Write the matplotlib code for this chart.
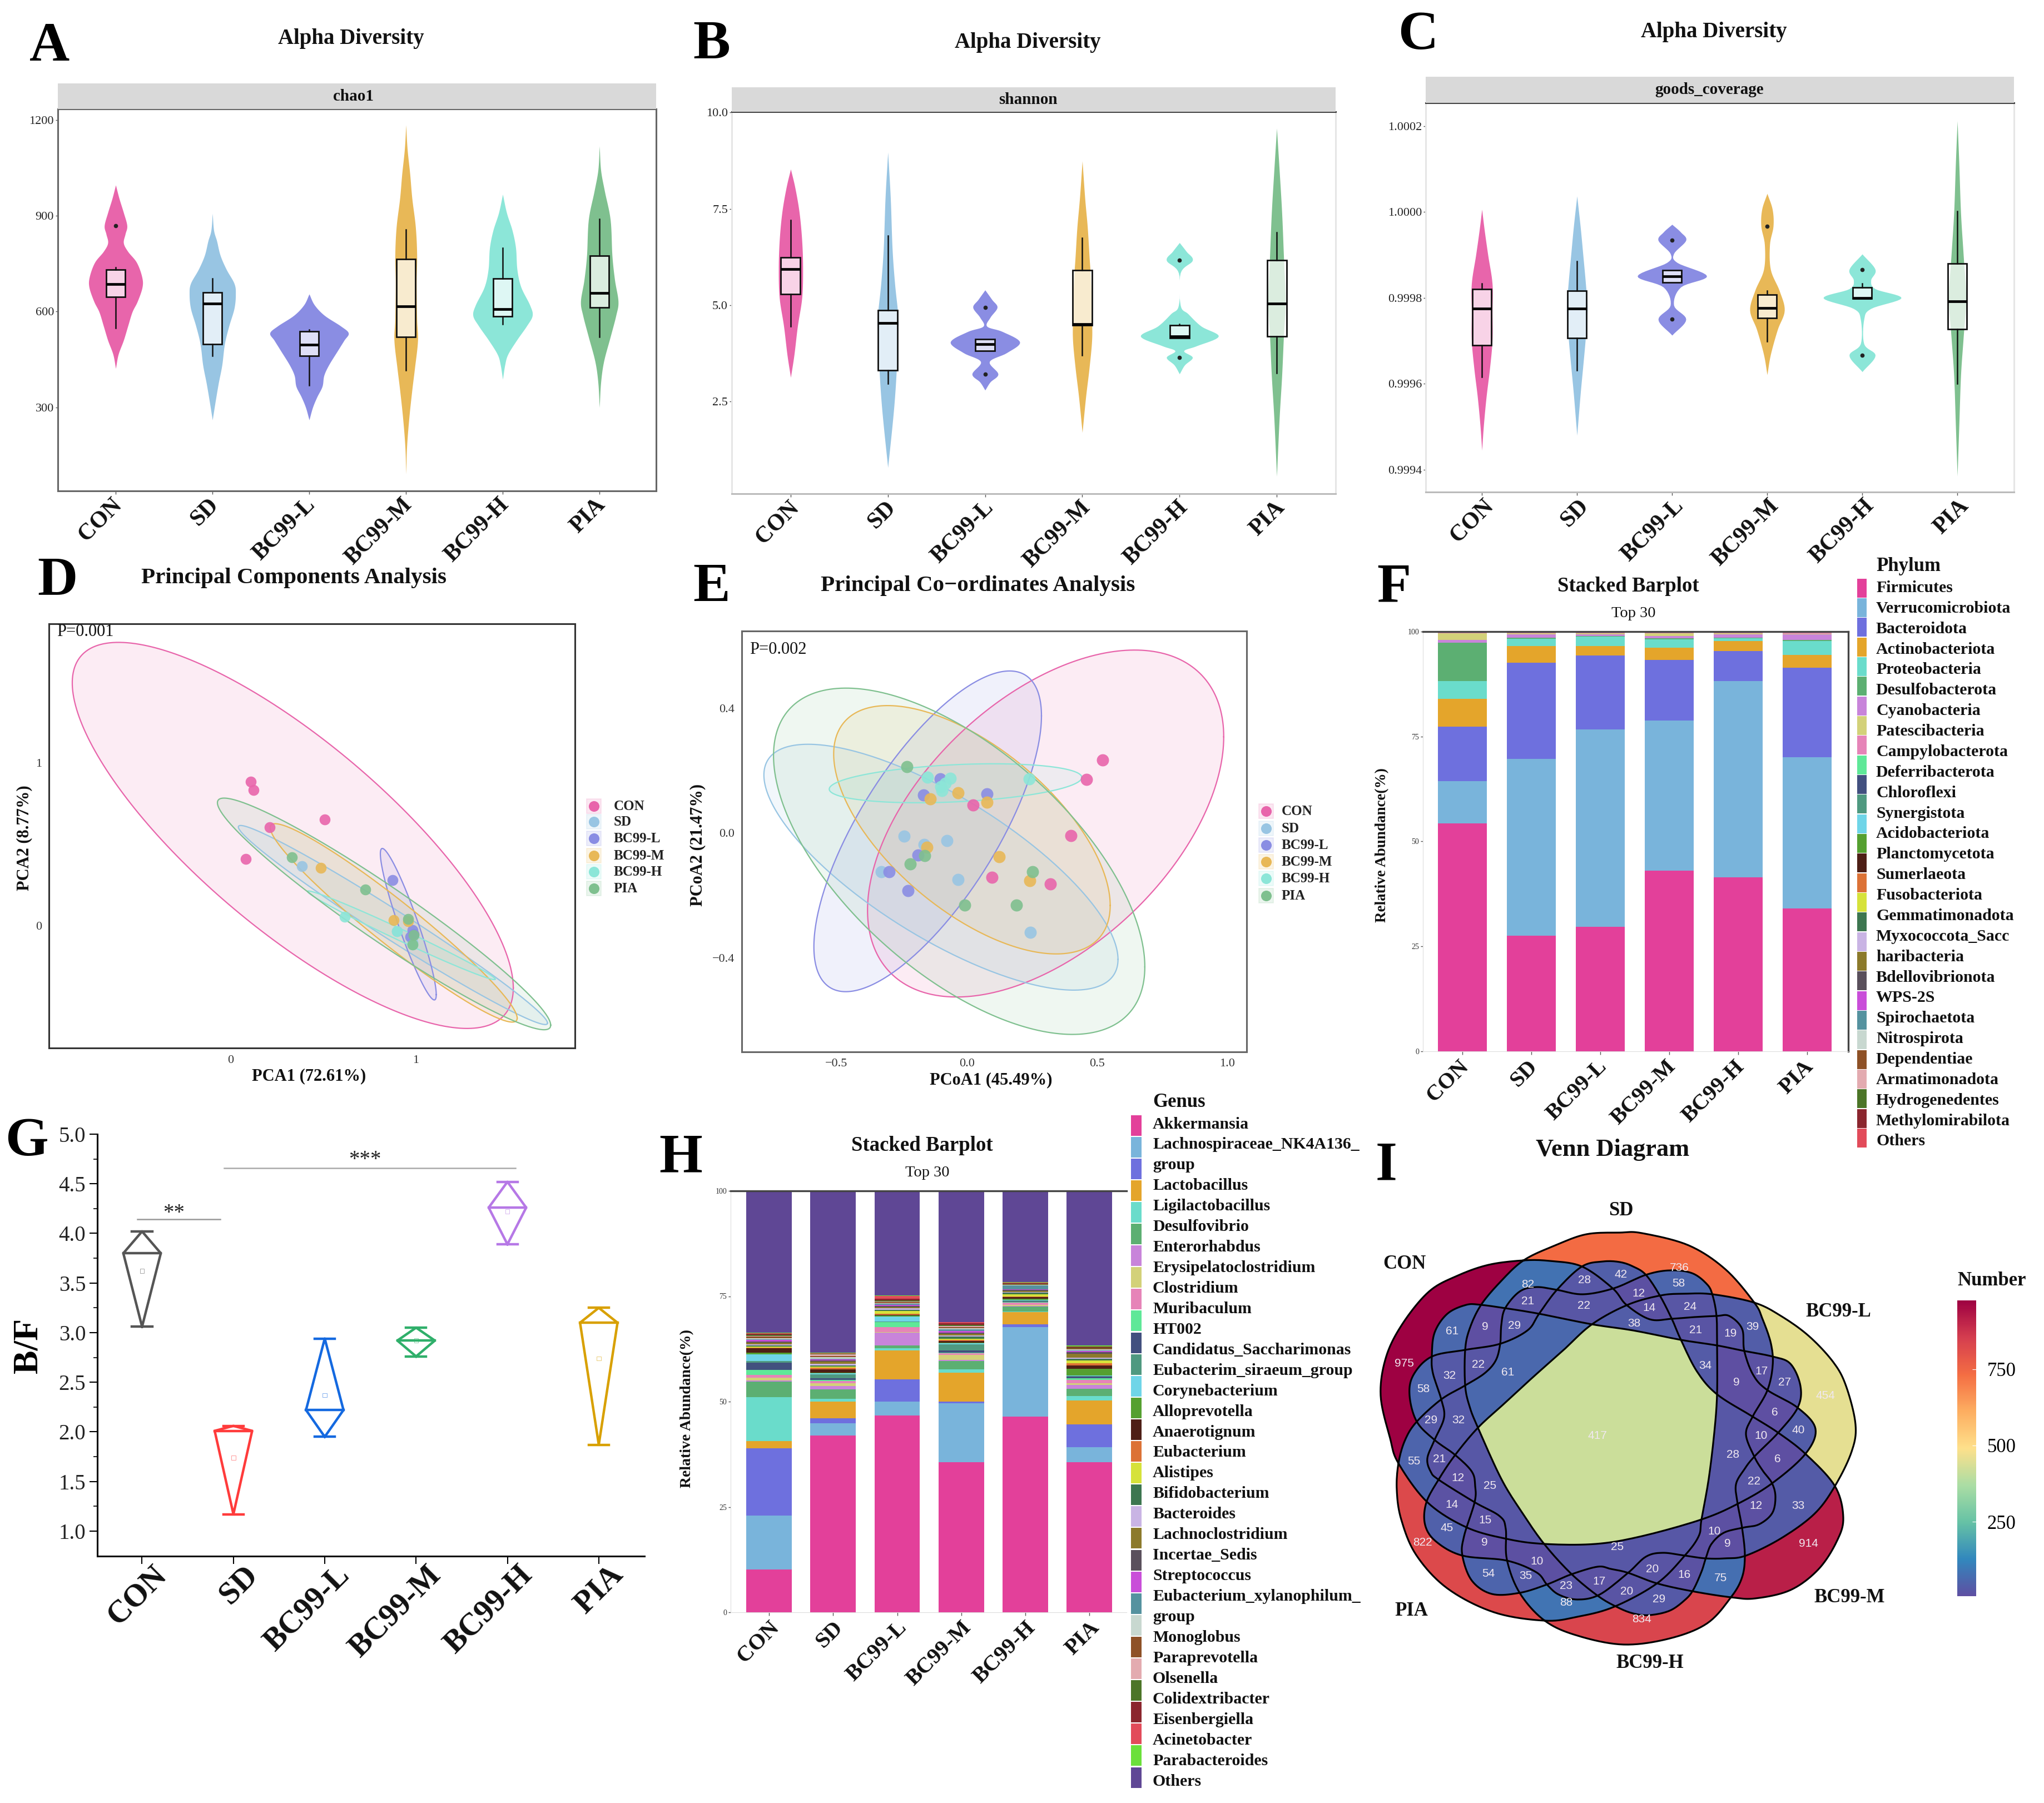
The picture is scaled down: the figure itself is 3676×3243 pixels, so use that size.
#!/usr/bin/env python3
"""Microbiome summary figure, panels A-I (alpha diversity, ordination, stacked bars, B/F, Venn)."""
import matplotlib
matplotlib.use('Agg')
import matplotlib.pyplot as plt
from matplotlib.cm import ScalarMappable
from matplotlib.colors import LinearSegmentedColormap, Normalize
from matplotlib.patches import Rectangle
from matplotlib.path import Path
from matplotlib.transforms import ScaledTranslation
import numpy as np

W, H, DPI = 3676, 3243, 100
plt.rcParams['font.family'] = ['Liberation Serif', 'DejaVu Serif']
plt.rcParams['axes.unicode_minus'] = True

groups = ['CON', 'SD', 'BC99-L', 'BC99-M', 'BC99-H', 'PIA']
group_colors = ['#E865AB', '#98C5E3', '#8A8DE3', '#E8B857', '#8CE6D8', '#7FC08F']

# violin outlines: levels and half widths (category units)
chao1_levels = [
    [422, 466, 510, 555, 599, 632, 677, 710, 754, 788, 815, 843, 869, 910, 954, 996],
    [261, 322, 377, 433, 499, 555, 610, 655, 688, 732, 776, 821, 854, 907],
    [261, 300, 333, 366, 400, 433, 477, 510, 533, 555, 588, 621, 655],
    [92, 178, 267, 355, 422, 510, 577, 688, 776, 865, 954, 1031, 1109, 1184],
    [388, 433, 466, 510, 555, 588, 621, 677, 732, 799, 854, 909, 967],
    [300, 377, 444, 521, 588, 632, 699, 776, 887, 976, 1043, 1118],
]
chao1_widths = [
    [0, .027, .081, .126, .171, .225, .275, .27, .216, .126, .081, .099, .117, .081, .036, 0],
    [0, .032, .063, .099, .126, .171, .225, .239, .225, .144, .081, .045, .014, 0],
    [0, .036, .081, .135, .153, .203, .293, .361, .406, .325, .158, .054, 0],
    [0, .009, .032, .063, .09, .122, .113, .108, .113, .099, .063, .041, .014, 0],
    [0, .023, .054, .144, .248, .307, .28, .189, .149, .135, .099, .041, 0],
    [0, .014, .045, .113, .171, .194, .158, .131, .113, .054, .014, 0],
]
# whisker low, q1, median, q3, whisker high
chao1_boxes = [[549, 646, 686, 732, 738], [461, 499, 625, 660, 704], [370, 461, 496, 538, 544],
               [416, 521, 616, 765, 856], [560, 585, 608, 704, 799], [521, 613, 659, 774, 890]]
chao1_outliers = [[869], [], [], [], [], []]

shannon_levels = [
    [3.12, 3.71, 4.45, 5.19, 5.93, 6.66, 7.40, 8.05, 8.53],
    [.78, 1.87, 2.61, 3.35, 4.08, 4.64, 5.56, 6.48, 7.77, 8.97],
    [2.79, 3.0, 3.21, 3.53, 3.76, 4.04, 4.31, 4.45, 4.68, 4.94, 5.14, 5.39],
    [1.69, 2.61, 3.35, 4.08, 4.64, 5.56, 6.29, 7.03, 7.77, 8.74],
    [3.21, 3.44, 3.64, 3.81, 3.94, 4.19, 4.45, 4.77, 5.0, 5.83, 6.16, 6.39, 6.62],
    [.55, 2.05, 3.16, 4.18, 5.1, 6.29, 7.4, 8.51, 9.59],
]
shannon_widths = [
    [0, .036, .071, .116, .125, .116, .089, .045, 0],
    [0, .045, .071, .089, .098, .107, .071, .045, .027, 0],
    [0, .053, .134, .045, .223, .357, .178, .018, .053, .125, .071, 0],
    [0, .036, .071, .098, .098, .089, .071, .053, .027, 0],
    [0, .053, .134, .045, .178, .401, .223, .089, .009, .009, .134, .071, 0],
    [0, .027, .053, .071, .089, .071, .053, .027, 0],
]
shannon_boxes = [[4.45, 5.29, 5.93, 6.24, 7.2], [2.96, 3.31, 4.53, 4.87, 6.8], [3.81, 3.81, 3.99, 4.11, 4.11],
                 [3.69, 4.47, 4.5, 5.9, 6.74], [4.15, 4.15, 4.19, 4.47, 4.5], [3.24, 4.19, 5.04, 6.17, 6.89]]
shannon_outliers = [[], [], [4.94, 3.21], [], [6.16, 3.64], []]

goods_levels = [
    [.999445, .999503, .999569, .999635, .999701, .999767, .999833, .999899, .999957, 1.000006],
    [.99948, .999577, .999643, .99971, .999775, .999833, .999899, .999965, 1.000037],
    [.999713, .99975, .999783, .999825, .999851, .999882, .999903, .999934, .999953, .999971],
    [.999621, .999668, .999726, .999771, .999817, .999866, .999924, .999967, 1.000006, 1.000043],
    [.999628, .999666, .999693, .99975, .999775, .9998, .999821, .999841, .999866, .999902],
    [.999385, .999503, .999619, .999709, .9998, .999899, .999998, 1.000113, 1.000212],
]
goods_widths = [
    [0, .018, .046, .082, .109, .109, .109, .064, .027, 0],
    [0, .036, .064, .091, .109, .091, .064, .036, 0],
    [0, .146, .018, .091, .365, .055, .018, .146, .091, 0],
    [0, .036, .109, .182, .128, .036, .027, .064, .055, 0],
    [0, .137, .018, .018, .091, .41, .137, .091, .137, 0],
    [0, .018, .036, .064, .091, .064, .036, .018, 0],
]
goods_boxes = [[.999616, .99969, .999775, .999821, .999833], [.999631, .999707, .999775, .999817, .999885],
               [.999836, .999836, .99985, .999864, .999864], [.999699, .999753, .999776, .999808, .999817],
               [.999798, .999798, .9998, .999824, .999833], [.9996, .999727, .999792, .99988, 1.000001]]
goods_outliers = [[], [], [.999934, .99975], [.999967], [.999866, .999666], []]

# ordination scores per group
pca_x = [[.108, .124, .507, .211, .081], [.383, .897, .981], [.873, .981, .969, .988],
         [.486, .88, .957], [.617, .981, .897], [.33, .727, .957, .988, .981]]
pca_y = [[.883, .833, .652, .604, .411], [.365, -.033, -.102], [.28, -.026, -.07, -.05],
         [.354, .035, .028], [.054, -.117, -.033], [.42, .222, .041, -.059, -.117]]
# ellipses: centre x, centre y, half extent x, half extent y, correlation
pca_ellipses = [[.335, .554, 1.191, 1.185, -.79], [.876, .004, .835, .611, -.985], [.959, .009, .151, .465, -.93],
                [.88, .017, .667, .609, -.96], [.921, -.059, .507, .272, -.99], [.828, .072, .9, .711, -.96]]

pcoa_x = [[.522, .461, .4, .024, .097, .321], [-.24, -.075, -.163, -.328, -.034, .245],
          [-.102, -.165, .077, -.187, -.298, -.226], [-.141, -.034, .078, -.153, .124, .243],
          [-.151, -.063, -.099, -.082, .241, -.095], [-.23, -.162, -.216, -.007, .19, .252]]
pcoa_y = [[.234, .172, -.009, .089, -.143, -.163], [-.011, -.024, -.037, -.124, -.149, -.318],
          [.173, .122, .124, -.072, -.124, -.185], [.109, .128, .098, -.047, -.076, -.153],
          [.178, .174, .148, .159, .173, .136], [.212, -.073, -.1, -.231, -.232, -.124]]
pcoa_ellipses = [[.303, .03, .684, .556, .5], [-.099, -.11, .68, .394, -.75], [-.15, .005, .437, .514, .72],
                 [.02, .01, .531, .398, -.61], [-.043, .159, .485, .0625, .3], [-.029, -.091, .713, .555, -.61]]

palette = ['#E3409A', '#79B4DB', '#6E70DE', '#E4A52B', '#6ADCCB', '#5CAF72', '#C884DA', '#D3D179',
           '#E684B8', '#5FE898', '#42507F', '#4F9980', '#6FD5E8', '#55A030', '#4E1F16', '#DC7236',
           '#D6E23A', '#3D7650', '#C9B4E4', '#8C7A2B', '#5A505C', '#C94ED9', '#55929F', '#C8D8D0',
           '#8E5127', '#E3ABB0', '#4C7528', '#8B262E', '#E24B5A', '#6BE03A', '#5F4795']

phylum_labels = ['Firmicutes', 'Verrucomicrobiota', 'Bacteroidota', 'Actinobacteriota', 'Proteobacteria',
                 'Desulfobacterota', 'Cyanobacteria', 'Patescibacteria', 'Campylobacterota', 'Deferribacterota',
                 'Chloroflexi', 'Synergistota', 'Acidobacteriota', 'Planctomycetota', 'Sumerlaeota',
                 'Fusobacteriota', 'Gemmatimonadota', 'Myxococcota_Sacc', 'haribacteria', 'Bdellovibrionota',
                 'WPS-2S', 'Spirochaetota', 'Nitrospirota', 'Dependentiae', 'Armatimonadota',
                 'Hydrogenedentes', 'Methylomirabilota', 'Others']
# rows are the lowest segments of the stack, last row collects the thin remainder
phylum_values = [
    [54.3, 27.6, 29.7, 43.1, 41.4, 34.1],
    [10.1, 42.1, 47.0, 35.7, 46.8, 35.9],
    [12.9, 22.9, 17.6, 14.4, 7.2, 21.4],
    [6.7, 4.0, 2.3, 2.9, 2.3, 3.0],
    [4.2, 1.7, 2.2, 2.0, .7, 3.4],
    [9.1, .3, .2, .3, .2, .2],
    [.7, .8, .4, .6, .7, 1.3],
    [1.6, .2, .2, .6, .3, .2],
    [.4, .4, .4, .4, .3, .5],
]

genus_labels = ['Akkermansia', 'Lachnospiraceae_NK4A136_', 'group', 'Lactobacillus', 'Ligilactobacillus',
                'Desulfovibrio', 'Enterorhabdus', 'Erysipelatoclostridium', 'Clostridium', 'Muribaculum',
                'HT002', 'Candidatus_Saccharimonas', 'Eubacterim_siraeum_group', 'Corynebacterium',
                'Alloprevotella', 'Anaerotignum', 'Eubacterium', 'Alistipes', 'Bifidobacterium', 'Bacteroides',
                'Lachnoclostridium', 'Incertae_Sedis', 'Streptococcus', 'Eubacterium_xylanophilum_', 'group',
                'Monoglobus', 'Paraprevotella', 'Olsenella', 'Colidextribacter', 'Eisenbergiella',
                'Acinetobacter', 'Parabacteroides', 'Others']
# one column per group, one row per legend colour
genus_values = np.array([
    [10.1, 12.9, 15.9, 1.7, 10.4, 3.7, .3, .7, .6, 1.2, 1.8, .3, 1.6, .4, 1.0, .2, .2, .3, .3, .4, .3, .3, .2, .3, .3, .2, .2, .3, .1, .1, 34.1],
    [42, 2.9, 1.1, 4, .6, 2.3, .8, .7, .5, .3, .3, .9, .3, .1, .9, .3, .3, .3, .4, .5, .3, .2, .2, .3, .3, .4, .1, .1, .1, .1, 38.6],
    [46.7, 3.3, 5.3, 6.9, .4, .7, 3, .2, 1.2, 1.1, .1, .1, 1.2, .2, .2, .2, .7, .3, .3, .3, .3, .2, .3, .2, .2, .2, .2, .4, .7, .1, 24.9],
    [35.6, 14, .4, 6.8, .8, 2, .3, 1.2, .4, .1, .5, 1.5, .2, .2, .4, .2, .3, .5, .3, .4, .3, .3, .5, .2, .3, .2, .3, .4, .2, .1, 31.1],
    [46.5, 21.2, .6, 2.9, .2, 1.2, .1, .3, .5, .1, .1, .3, .2, .2, .4, .2, .5, .3, .2, .3, .2, .1, 1.0, .1, .1, .1, .1, .1, .1, .1, 21.8],
    [35.6, 3.6, 5.4, 5.7, 1, 1.8, .8, .5, .7, .5, .3, .2, .1, 1.6, .8, .5, .7, .3, .3, .9, .5, .2, .2, .2, .2, .1, .1, .2, .1, .2, 36.8],
]).T

bf_low = [3.06, 1.17, 1.95, 2.76, 3.89, 1.87]
bf_mid = [3.80, 2.01, 2.22, 2.92, 4.26, 3.10]
bf_high = [4.02, 2.06, 2.94, 3.05, 4.52, 3.25]
bf_mean = [3.62, 1.74, 2.37, 2.92, 4.22, 2.74]
bf_colors = ['#555555', '#FF3B3B', '#1469E0', '#2FAF6A', '#B678E6', '#D8A000']

# Venn outlines, traced in image pixels
con_curve = [(2740, 2267), (2787, 2268), (2845, 2278), (2900, 2317), (2925, 2347), (2967, 2373), (3007, 2372),
             (3047, 2369), (3087, 2367), (3110, 2367), (3133, 2390), (3137, 2430), (3153, 2473), (3178, 2500),
             (3233, 2532), (3265, 2570), (3247, 2615), (3187, 2668), (3125, 2705), (3060, 2733), (2953, 2763),
             (2870, 2777), (2777, 2777), (2710, 2768), (2637, 2747), (2567, 2702), (2515, 2632), (2500, 2587),
             (2483, 2510), (2493, 2440), (2523, 2380), (2570, 2323), (2620, 2295), (2677, 2275)]
sd_curve = [(2740, 2267), (2697, 2307), (2663, 2348), (2643, 2390), (2635, 2428), (2635, 2492), (2643, 2530),
            (2658, 2568), (2700, 2660), (2737, 2720), (2777, 2777), (2825, 2830), (2873, 2870), (2907, 2890),
            (2937, 2902), (2967, 2905), (3003, 2897), (3030, 2878), (3045, 2860), (3060, 2827), (3068, 2802),
            (3078, 2777), (3100, 2757), (3133, 2748), (3163, 2742), (3187, 2722), (3193, 2693), (3187, 2668),
            (3170, 2645), (3155, 2620), (3140, 2580), (3152, 2548), (3178, 2502), (3188, 2457), (3185, 2417),
            (3170, 2373), (3155, 2343), (3103, 2283), (3037, 2240), (2953, 2218), (2913, 2217), (2853, 2220),
            (2797, 2240)]
l_curve = [(3155, 2343), (3203, 2367), (3253, 2403), (3297, 2450), (3320, 2493), (3337, 2562), (3330, 2611),
           (3300, 2673), (3263, 2723), (3203, 2767), (3140, 2798), (3103, 2803), (3067, 2803), (3030, 2798),
           (2990, 2793), (2960, 2800), (2928, 2829), (2877, 2868), (2837, 2877), (2803, 2868), (2782, 2850),
           (2763, 2828), (2710, 2807), (2630, 2798), (2583, 2773), (2563, 2743), (2565, 2703), (2588, 2660),
           (2617, 2617), (2658, 2568), (2707, 2523), (2757, 2477), (2810, 2430), (2863, 2382), (2927, 2347),
           (2987, 2330), (3030, 2327), (3080, 2328)]
m_curve = [(3113, 2873), (3157, 2875), (3220, 2860), (3270, 2823), (3303, 2773), (3315, 2730), (3300, 2673),
           (3247, 2615), (3198, 2577), (3152, 2548), (3088, 2508), (3052, 2467), (3023, 2410), (3007, 2373),
           (2985, 2330), (2960, 2293), (2937, 2278), (2913, 2270), (2883, 2269), (2845, 2278), (2800, 2320),
           (2768, 2363), (2747, 2393), (2698, 2417), (2635, 2428), (2575, 2440), (2542, 2473), (2535, 2510),
           (2548, 2557), (2580, 2590), (2617, 2617), (2647, 2647), (2653, 2673), (2652, 2702), (2633, 2763),
           (2630, 2798), (2647, 2843), (2683, 2867), (2733, 2865), (2782, 2850), (2825, 2832), (2873, 2818),
           (2897, 2822), (2928, 2829), (2980, 2848), (3043, 2862)]
h_curve = [(2778, 2915), (2837, 2942), (2920, 2958), (3003, 2947), (3070, 2920), (3113, 2873), (3133, 2837),
           (3138, 2797), (3133, 2748), (3125, 2705), (3122, 2670), (3137, 2643), (3155, 2620), (3198, 2577),
           (3233, 2532), (3238, 2493), (3220, 2453), (3188, 2440), (3137, 2430), (3088, 2420), (3023, 2410),
           (2937, 2393), (2863, 2382), (2768, 2363), (2707, 2353), (2663, 2347), (2637, 2347), (2603, 2363),
           (2580, 2397), (2575, 2440), (2577, 2470), (2592, 2517), (2597, 2550), (2580, 2590), (2567, 2623),
           (2573, 2647), (2588, 2662), (2652, 2702), (2697, 2727), (2708, 2750), (2710, 2805), (2733, 2865)]
pia_curve = [(2515, 2632), (2512, 2680), (2520, 2733), (2547, 2797), (2603, 2857), (2687, 2900), (2778, 2915),
             (2837, 2908), (2903, 2890), (2980, 2848), (3030, 2798), (3055, 2763), (3060, 2733), (3073, 2660),
             (3083, 2577), (3088, 2508), (3088, 2420), (3087, 2367), (3080, 2330), (3070, 2310), (3043, 2290),
             (3003, 2285), (2960, 2293), (2903, 2317), (2847, 2328), (2800, 2320), (2763, 2315), (2733, 2323),
             (2707, 2353), (2700, 2383), (2698, 2417), (2690, 2447), (2670, 2470), (2635, 2492), (2592, 2517),
             (2548, 2557), (2527, 2590)]

venn_values = [975, 82, 28, 21, 22, 61, 9, 29, 22, 61, 32, 58, 29, 32, 417, 55, 21,
               42, 736, 58, 12, 14, 24, 38, 21, 19, 39, 34, 17, 27, 9, 454, 6, 40, 10, 28, 6,
               12, 25, 14, 15, 45, 822, 9, 10, 54, 35, 23, 17, 88,
               25, 22, 12, 33, 10, 9, 914, 20, 16, 75, 20, 29, 834]
venn_x = [2525, 2748, 2850, 2748, 2849, 2612, 2671, 2724, 2658, 2712, 2607, 2560, 2574, 2623, 2873, 2543, 2589,
          2915, 3020, 3019, 2947, 2966, 3040, 2939, 3050, 3112, 3152, 3067, 3168, 3210, 3123, 3283, 3192, 3234, 3167, 3117, 3197,
          2622, 2680, 2611, 2671, 2602, 2558, 2670, 2764, 2677, 2744, 2817, 2876, 2817,
          2909, 3155, 3158, 3234, 3083, 3107, 3252, 2972, 3029, 3095, 2926, 2984, 2953]
venn_y = [2452, 2310, 2303, 2341, 2349, 2394, 2387, 2385, 2455, 2468, 2474, 2499, 2554, 2554, 2582, 2629, 2625,
          2293, 2281, 2309, 2326, 2353, 2350, 2380, 2393, 2398, 2386, 2456, 2466, 2486, 2486, 2511, 2540, 2573, 2583, 2617, 2624,
          2658, 2673, 2706, 2734, 2748, 2775, 2774, 2809, 2831, 2834, 2853, 2845, 2882,
          2783, 2665, 2708, 2709, 2754, 2777, 2776, 2823, 2833, 2838, 2862, 2876, 2912]
venn_names = ['CON', 'SD', 'BC99-L', 'BC99-M', 'BC99-H', 'PIA']
venn_colors = ['#5E4FA2', '#3288BD', '#66C2A5', '#ABDDA4', '#FEE08B', '#FDAE61', '#F46D43', '#D53E4F', '#9E0142']

fig = plt.figure(figsize=(W / DPI, H / DPI), dpi=DPI, facecolor='white')


def panel_axes(left, top, right, bottom):
    return fig.add_axes([left / W, 1 - bottom / H, (right - left) / W, (bottom - top) / H])


def spline(pts, closed=True, n=10):
    """Catmull-Rom curve through the traced points, only to draw them smoothly."""
    p = np.asarray(pts, float)
    if closed:
        p = np.vstack([p[-1], p, p[:2]])
    else:
        p = np.vstack([2 * p[0] - p[1], p, 2 * p[-1] - p[-2]])
    t = np.linspace(0, 1, n, endpoint=False)[:, None]
    out = []
    for i in range(1, len(p) - 2):
        a, b, c, d = p[i - 1], p[i], p[i + 1], p[i + 2]
        out.append(.5 * (2 * b + (c - a) * t + (2 * a - 5 * b + 4 * c - d) * t ** 2 + (3 * b - a - 3 * c + d) * t ** 3))
    out = np.vstack(out)
    if not closed:
        out = np.vstack([out, p[-2]])
    return out


def rotated_labels(ax, names, size, dx, pad):
    ax.set_xticks(range(len(names)))
    ax.set_xticklabels(names, rotation=45, ha='right', va='center', rotation_mode='anchor',
                       fontsize=size, fontweight='bold', color='#111111')
    ax.tick_params(axis='x', pad=pad)
    shift = ScaledTranslation(dx / DPI, 0, fig.dpi_scale_trans)
    for lab in ax.get_xticklabels():
        lab.set_transform(lab.get_transform() + shift)


def violin_panel(box, xlim, ylim, levels, widths, stats, outliers, yticks, yfmt, edge, dx):
    ax = panel_axes(*box)
    for i in range(6):
        curve = spline(np.column_stack([levels[i], widths[i]]), closed=False, n=8)
        hw = np.clip(curve[:, 1], 0, None)
        ax.fill_betweenx(curve[:, 0], i - hw, i + hw, color=group_colors[i], lw=0, zorder=1)
    bxp_stats = [dict(whislo=s[0], q1=s[1], med=s[2], q3=s[3], whishi=s[4], fliers=outliers[i])
                 for i, s in enumerate(stats)]
    ax.bxp(bxp_stats, positions=range(6), widths=.2, patch_artist=True, showcaps=False, manage_ticks=False,
           boxprops=dict(facecolor=(1, 1, 1, .72), edgecolor='#111111', linewidth=2),
           whiskerprops=dict(color='#111111', linewidth=1.8),
           medianprops=dict(color='#000000', linewidth=3.4),
           flierprops=dict(marker='o', markerfacecolor='#222222', markeredgecolor='#222222', markersize=4.5),
           zorder=3)
    ax.set_xlim(*xlim)
    ax.set_ylim(*ylim)
    ax.set_yticks(yticks)
    ax.set_yticklabels([yfmt % v for v in yticks], fontsize=16, color='#222222')
    ax.tick_params(axis='y', length=3, width=1, color='#555555', pad=2)
    ax.tick_params(axis='x', length=4, width=1, color='#555555')
    rotated_labels(ax, groups, 30, dx, 10)
    for s in ax.spines.values():
        s.set_color(edge)
        s.set_linewidth(2.2)
    return ax


def ellipse_curve(e):
    cx, cy, dx, dy, r = e
    t = np.linspace(0, 2 * np.pi, 240)
    return cx + dx * np.cos(t), cy + dy * np.cos(t + np.arccos(r))


def ordination_panel(box, xlim, ylim, xs, ys, ellipses, xticks, xticklabels, yticks, yticklabels, spine, size):
    ax = panel_axes(*box)
    for i in range(6):
        ex, ey = ellipse_curve(ellipses[i])
        ax.fill(ex, ey, color=group_colors[i], alpha=.12, lw=0, zorder=1)
        ax.plot(ex, ey, color=group_colors[i], lw=1.6, zorder=2)
    for i in range(6):
        ax.scatter(xs[i], ys[i], s=size, color=group_colors[i], alpha=.9, lw=0, zorder=3)
    ax.set_xlim(*xlim)
    ax.set_ylim(*ylim)
    ax.set_xticks(xticks)
    ax.set_xticklabels(xticklabels, fontsize=16, color='#333333')
    ax.set_yticks(yticks)
    ax.set_yticklabels(yticklabels, fontsize=16, color='#333333')
    ax.tick_params(length=0, pad=9)
    for s in ax.spines.values():
        s.set_color(spine)
        s.set_linewidth(2.2)
    return ax


def stacked_panel(box, xlim, values, colors, dx):
    ax = panel_axes(*box)
    bottom = np.zeros(6)
    for row, color in zip(values, colors):
        ax.bar(range(6), row, bottom=bottom, width=.71, color=color, lw=0)
        bottom = bottom + np.asarray(row)
    ax.set_xlim(*xlim)
    ax.set_ylim(0, 100)
    ax.set_yticks([0, 25, 50, 75, 100])
    ax.set_yticklabels(['0', '25', '50', '75', '100'], fontsize=10, color='#333333')
    ax.tick_params(axis='y', length=3, width=1, color='#555555', pad=2)
    ax.tick_params(axis='x', length=4, width=1, color='#555555')
    rotated_labels(ax, groups, 29, dx, 12)
    ax.spines['left'].set_color('#DDDDDD')
    ax.spines['bottom'].set_color('#DDDDDD')
    ax.spines['top'].set_color('#444444')
    ax.spines['top'].set_linewidth(2.4)
    return ax


# A-C alpha diversity
violin_panel((104, 196, 1180, 883), (-.598, 5.586), (39, 1234), chao1_levels, chao1_widths, chao1_boxes,
             chao1_outliers, [300, 600, 900, 1200], '%d', '#666666', 5)
ax_b = violin_panel((1316, 201, 2402, 888), (-.606, 5.606), (.1, 10.02), shannon_levels, shannon_widths,
                    shannon_boxes, shannon_outliers, [2.5, 5.0, 7.5, 10.0], '%.1f', '#BBBBBB', 9)
ax_c = violin_panel((2564, 185, 3622, 885), (-.591, 5.596), (.999348, 1.000254), goods_levels, goods_widths,
                    goods_boxes, goods_outliers, [.9994, .9996, .9998, 1.0, 1.0002], '%.4f', '#BBBBBB', 15)
for a in (ax_b, ax_c):
    a.spines['top'].set_color('#444444')
    a.spines['left'].set_color('#E6E6E6')
    a.spines['right'].set_color('#E6E6E6')

# D, E ordination
ordination_panel((88, 1122, 1034, 1885), (-.982, 1.859), (-.751, 1.853), pca_x, pca_y, pca_ellipses,
                 [0, 1], ['0', '1'], [0, 1], ['0', '1'], '#333333', 200)
ordination_panel((1334, 1135, 2242, 1892), (-.864, 1.075), (-.702, .647), pcoa_x, pcoa_y, pcoa_ellipses,
                 [-.5, 0, .5, 1], ['\u22120.5', '0.0', '0.5', '1.0'], [-.4, 0, .4],
                 ['\u22120.4', '0.0', '0.4'], '#666666', 250)

# F, H stacked bars
ax_f = stacked_panel((2559, 1136, 3324, 1891), (-.57, 5.6), phylum_values, palette[:9], 6)
ax_f.spines['right'].set_color('#444444')
ax_f.spines['right'].set_linewidth(2.4)
ax_h = stacked_panel((1314, 2142, 2026, 2900), (-.6, 5.58), genus_values, palette, 12)
ax_h.spines['right'].set_visible(False)

# G B/F ratio
ax_g = panel_axes(175, 2040, 1159, 2798.5)
for i in range(6):
    c = bf_colors[i]
    ax_g.plot([i, i - .205, i, i + .205, i], [bf_low[i], bf_mid[i], bf_high[i], bf_mid[i], bf_low[i]], color=c, lw=3.2)
    ax_g.plot([i - .205, i + .205], [bf_mid[i], bf_mid[i]], color=c, lw=3.2)
    ax_g.plot([i - .11, i + .11], [bf_low[i], bf_low[i]], color=c, lw=3.2)
    ax_g.plot([i - .11, i + .11], [bf_high[i], bf_high[i]], color=c, lw=3.2)
    ax_g.scatter([i], [bf_mean[i]], marker='s', s=30, facecolor='none', edgecolor=c, lw=.6, alpha=.6)
ax_g.plot([-.05, .857], [4.14, 4.14], color='#999999', lw=1.8)
ax_g.plot([.9, 4.085], [4.657, 4.657], color='#AAAAAA', lw=1.8)
ax_g.text(.35, 4.2, '**', ha='center', va='center', fontsize=28, color='#222222')
ax_g.text(2.44, 4.74, '***', ha='center', va='center', fontsize=28, color='#222222')
ax_g.set_xlim(-.49, 5.5)
ax_g.set_ylim(.75, 5.0)
ax_g.set_yticks(np.arange(1, 5.01, .5))
ax_g.set_yticklabels(['%.1f' % v for v in np.arange(1, 5.01, .5)], fontsize=28, color='#222222')
ax_g.set_yticks(np.arange(1.25, 5, .5), minor=True)
ax_g.tick_params(axis='y', which='major', length=10, width=1.5, pad=5)
ax_g.tick_params(axis='y', which='minor', length=5, width=1.2)
ax_g.tick_params(axis='x', length=10, width=1.5)
rotated_labels(ax_g, groups, 41, 36, 9)
ax_g.spines['top'].set_visible(False)
ax_g.spines['right'].set_visible(False)
ax_g.spines['left'].set_linewidth(2.2)
ax_g.spines['bottom'].set_linewidth(2.2)

# everything placed by image position goes on one full-page layer
page = fig.add_axes([0, 0, 1, 1], zorder=10)
page.patch.set_visible(False)
page.axis('off')


def label(x, y, text, size, weight='bold', **kw):
    kw.setdefault('ha', 'center')
    kw.setdefault('va', 'center')
    kw.setdefault('color', '#111111')
    page.text(x, y, text, fontsize=size, fontweight=weight, **kw)


for letter, x, y in [('A', 89, 85), ('B', 1280, 80), ('C', 2550, 64), ('D', 103, 1045), ('E', 1280, 1057),
                     ('F', 2507, 1057), ('G', 48, 2054), ('H', 1224, 2083), ('I', 2493, 2098)]:
    label(x, y, letter, 72, color='black')
for x, y in [(631, 69), (1848, 76), (3082, 57)]:
    label(x, y, 'Alpha Diversity', 28)
for x0, x1, y0, y1, name, xt in [(104, 1180, 150, 196, 'chao1', 635), (1316, 2402, 157, 201, 'shannon', 1849),
                                 (2564, 3622, 138, 185, 'goods_coverage', 3074)]:
    page.add_patch(Rectangle((x0, y0), x1 - x0, y1 - y0, facecolor='#D9D9D9', edgecolor='none'))
    label(xt, (y0 + y1) / 2, name, 21)

label(529, 1040, 'Principal Components Analysis', 29.5)
label(1759, 1053, 'Principal Co\u2212ordinates Analysis', 29.5)
label(102, 1137, 'P=0.001', 22, weight='normal', ha='left')
label(1348, 1168, 'P=0.002', 22, weight='normal', ha='left')
label(556, 1936, 'PCA1 (72.61%)', 22)
label(44, 1507, 'PCA2 (8.77%)', 22, rotation=90)
label(1782, 1943, 'PCoA1 (45.49%)', 22)
label(1255, 1520, 'PCoA2 (21.47%)', 22, rotation=90)

for key_x, text_x, ys in [(1068, 1104, [1450, 1478, 1508, 1539, 1568, 1598]),
                          (2277, 2305, [1459, 1490, 1520, 1550, 1580, 1611])]:
    for i, y in enumerate(ys):
        page.add_patch(Rectangle((key_x - 13, y - 13), 26, 26, facecolor=group_colors[i], alpha=.15,
                                 edgecolor=group_colors[i], lw=1.4))
        page.scatter([key_x], [y], s=190, color=group_colors[i], lw=0)
        label(text_x, y, groups[i], 18, ha='left', color='#222222')

label(2928, 1055, 'Stacked Barplot', 26.5)
label(2938, 1104, 'Top 30', 20.5, weight='normal')
label(2486, 1520, 'Relative Abundance(%)', 19.5, rotation=90)
label(3374, 1018, 'Phylum', 25, ha='left')
label(1658, 2060, 'Stacked Barplot', 26.5)
label(1668, 2109, 'Top 30', 20.5, weight='normal')
label(1236, 2533, 'Relative Abundance(%)', 20, rotation=90)
label(2073, 1982, 'Genus', 25, ha='left')
label(51, 2420, 'B/F', 46, rotation=90, color='black')

# legend keys and text run on separate spacings, as in the source figure
for i, y in enumerate(np.linspace(1057.5, 2047, 29)):
    page.add_patch(Rectangle((3340, y - 17), 17, 34, facecolor=palette[i], edgecolor='none'))
for i, y in enumerate(np.linspace(1057.5, 2053, len(phylum_labels))):
    label(3374, y, phylum_labels[i], 21.5, ha='left')
for i, y in enumerate(np.linspace(2024, 3197, 31)):
    page.add_patch(Rectangle((2034, y - 18.5), 19, 37, facecolor=palette[i], edgecolor='none'))
for i, y in enumerate(np.linspace(2022, 3204, len(genus_labels))):
    label(2073, y, genus_labels[i], 21.5, ha='left')

# I Venn: colour each region by the count printed inside it
curves = [spline(c) for c in (con_curve, sd_curve, l_curve, m_curve, h_curve, pia_curve)]
paths = [Path(c) for c in curves]
norm = Normalize(6, 975)
cmap = LinearSegmentedColormap.from_list('venn_spectral', venn_colors)
gx, gy = np.meshgrid(np.arange(2470, 3350), np.arange(2200, 2970))
grid_pts = np.column_stack([gx.ravel() + .5, gy.ravel() + .5])
codes = np.zeros(len(grid_pts), dtype=int)
for bit, p in enumerate(paths):
    codes += p.contains_points(grid_pts).astype(int) << bit
lookup = np.full(64, 25.0)
for v, x, y in zip(venn_values, venn_x, venn_y):
    code = sum(int(p.contains_point((x, y))) << bit for bit, p in enumerate(paths))
    lookup[code] = v
rgba = cmap(norm(lookup[codes])).reshape(gx.shape + (4,))
rgba[..., 3] = (codes.reshape(gx.shape) > 0).astype(float)
page.imshow(rgba, extent=(2470, 3350, 2970, 2200), aspect='auto', interpolation='nearest', zorder=1)
for c in curves:
    page.plot(*np.vstack([c, c[0]]).T, color='black', lw=2.3, zorder=2, solid_joinstyle='round')
for v, x, y in zip(venn_values, venn_x, venn_y):
    page.text(x, y, str(v), fontsize=15, ha='center', va='center', color='#F0E8F0',
              family='Liberation Sans', zorder=3)

label(2900, 2068, 'Venn Diagram', 32)
for (x, y), name in zip([(2526, 2274), (2915, 2178), (3306, 2359), (3326, 2873), (2967, 2991), (2538, 2897)], venn_names):
    label(x, y, name, 25)
label(3520, 2303, 'Number', 25, ha='left')

page.set_xlim(0, W)
page.set_ylim(H, 0)

cax = panel_axes(3520, 2339, 3554, 2871)
bar = fig.colorbar(ScalarMappable(norm=norm, cmap=cmap), cax=cax)
bar.set_ticks([250, 500, 750])
bar.ax.tick_params(labelsize=25, length=5, color='white', direction='in', pad=14)
bar.outline.set_visible(False)

fig.savefig('out.png', dpi=DPI, facecolor='white')
